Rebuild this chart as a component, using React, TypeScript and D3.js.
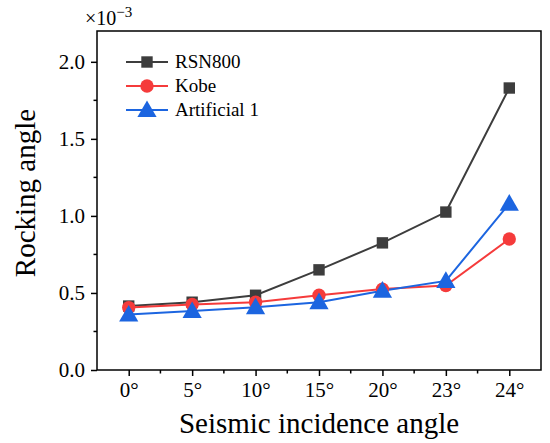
import * as d3 from "d3";
import { useRef, useEffect } from "react";

const angles = ["0°", "5°", "10°", "15°", "20°", "23°", "24°"];
const rsn800 = [0.415, 0.44, 0.485, 0.65, 0.825, 1.025, 1.83];
const kobe = [0.405, 0.425, 0.44, 0.485, 0.525, 0.548, 0.85];
const artificial1 = [0.36, 0.383, 0.408, 0.44, 0.515, 0.578, 1.08];
const yTicks = [0, 0.5, 1.0, 1.5, 2.0];
const yMinorTicks = [0.25, 0.75, 1.25, 1.75];

const seriesNames = ["RSN800", "Kobe", "Artificial 1"];
const seriesColors = ["#3d3d3d", "#f53b3b", "#1c65e0"];
const seriesShapes = [d3.symbolSquare, d3.symbolCircle, d3.symbolTriangle];
const seriesSizes = [130, 140, 160];

const App = () => {
  const svgRef = useRef<SVGSVGElement | null>(null);
  const width = 550;
  const height = 443;
  const left = 97;
  const right = 541;
  const top = 31;
  const bottom = 370;

  useEffect(() => {
    if (!svgRef.current) return;
    const svg = d3.select(svgRef.current);
    svg.selectAll("*").remove();

    const font = "Liberation Serif, Times New Roman, serif";

    const x = d3.scalePoint().domain(angles).range([left, right]).padding(0.5);
    const y = d3.scaleLinear().domain([0, 2.2]).range([bottom, top]);

    // frame
    svg
      .append("rect")
      .attr("x", left)
      .attr("y", top)
      .attr("width", right - left)
      .attr("height", bottom - top)
      .attr("fill", "none")
      .attr("stroke", "#000")
      .attr("stroke-width", 1.5);

    // x axis
    const xAxis = svg
      .append("g")
      .attr("transform", `translate(0,${bottom})`)
      .call(d3.axisBottom(x).tickSize(6).tickSizeOuter(0).tickPadding(6))
      .attr("font-family", font)
      .attr("font-size", 21);
    xAxis.select(".domain").remove();
    xAxis.selectAll("line").attr("stroke-width", 1.5);
    xAxis.selectAll("text").attr("fill", "#000");

    // x minor ticks
    const step = x.step();
    const xMinor = angles.map((a) => x(a)! + step / 2);
    svg
      .append("g")
      .selectAll("line")
      .data(xMinor.filter((v) => v > left + 1 && v < right - 1))
      .join("line")
      .attr("x1", (d) => d)
      .attr("x2", (d) => d)
      .attr("y1", bottom)
      .attr("y2", bottom + 3.5)
      .attr("stroke", "#000")
      .attr("stroke-width", 1.5);

    // y axis
    const yAxis = svg
      .append("g")
      .attr("transform", `translate(${left},0)`)
      .call(
        d3
          .axisLeft(y)
          .tickValues(yTicks)
          .tickFormat(d3.format(".1f"))
          .tickSize(6)
          .tickSizeOuter(0)
          .tickPadding(6)
      )
      .attr("font-family", font)
      .attr("font-size", 21);
    yAxis.select(".domain").remove();
    yAxis.selectAll("line").attr("stroke-width", 1.5);
    yAxis.selectAll("text").attr("fill", "#000");

    svg
      .append("g")
      .selectAll("line")
      .data(yMinorTicks)
      .join("line")
      .attr("x1", left - 3.5)
      .attr("x2", left)
      .attr("y1", (d) => y(d))
      .attr("y2", (d) => y(d))
      .attr("stroke", "#000")
      .attr("stroke-width", 1.5);

    // exponent label
    const expo = svg
      .append("text")
      .attr("x", 85)
      .attr("y", 25)
      .attr("font-family", font)
      .attr("font-size", 20)
      .attr("fill", "#000");
    expo.append("tspan").text("×10");
    expo.append("tspan").attr("dy", -8).attr("font-size", 15).text("−3");

    // axis titles
    svg
      .append("text")
      .attr("x", (left + right) / 2)
      .attr("y", 433)
      .attr("text-anchor", "middle")
      .attr("font-family", font)
      .attr("font-size", 29)
      .attr("fill", "#000")
      .text("Seismic incidence angle");

    svg
      .append("text")
      .attr("transform", `translate(35,193) rotate(-90)`)
      .attr("text-anchor", "middle")
      .attr("font-family", font)
      .attr("font-size", 29)
      .attr("fill", "#000")
      .text("Rocking angle");

    const allSeries = [rsn800, kobe, artificial1];
    const line = d3
      .line<number>()
      .x((_, i) => x(angles[i])!)
      .y((d) => y(d));

    allSeries.forEach((values, s) => {
      svg
        .append("path")
        .datum(values)
        .attr("fill", "none")
        .attr("stroke", seriesColors[s])
        .attr("stroke-width", 2)
        .attr("d", line);
    });

    allSeries.forEach((values, s) => {
      const sym = d3.symbol().type(seriesShapes[s]).size(seriesSizes[s]);
      svg
        .append("g")
        .selectAll("path")
        .data(values)
        .join("path")
        .attr("transform", (d, i) => `translate(${x(angles[i])},${y(d) + (s === 2 ? 1.5 : 0)})`)
        .attr("d", sym)
        .attr("fill", seriesColors[s]);
    });

    // legend
    const legend = svg.append("g").attr("transform", `translate(126,62)`);
    seriesNames.forEach((name, i) => {
      const g = legend.append("g").attr("transform", `translate(0,${i * 24})`);
      g.append("line")
        .attr("x1", 0)
        .attr("x2", 42)
        .attr("stroke", seriesColors[i])
        .attr("stroke-width", 2);
      g.append("path")
        .attr("transform", `translate(21,${i === 2 ? 1.5 : 0})`)
        .attr("d", d3.symbol().type(seriesShapes[i]).size(seriesSizes[i])())
        .attr("fill", seriesColors[i]);
      g.append("text")
        .attr("x", 49)
        .attr("y", 6)
        .attr("font-family", font)
        .attr("font-size", 19)
        .attr("fill", "#000")
        .text(name);
    });
  }, []);

  return (
    <svg
      ref={svgRef}
      width={width}
      height={height}
      style={{ position: "absolute", left: 0, top: 0, background: "#fff" }}
    ></svg>
  );
};

export default App;
